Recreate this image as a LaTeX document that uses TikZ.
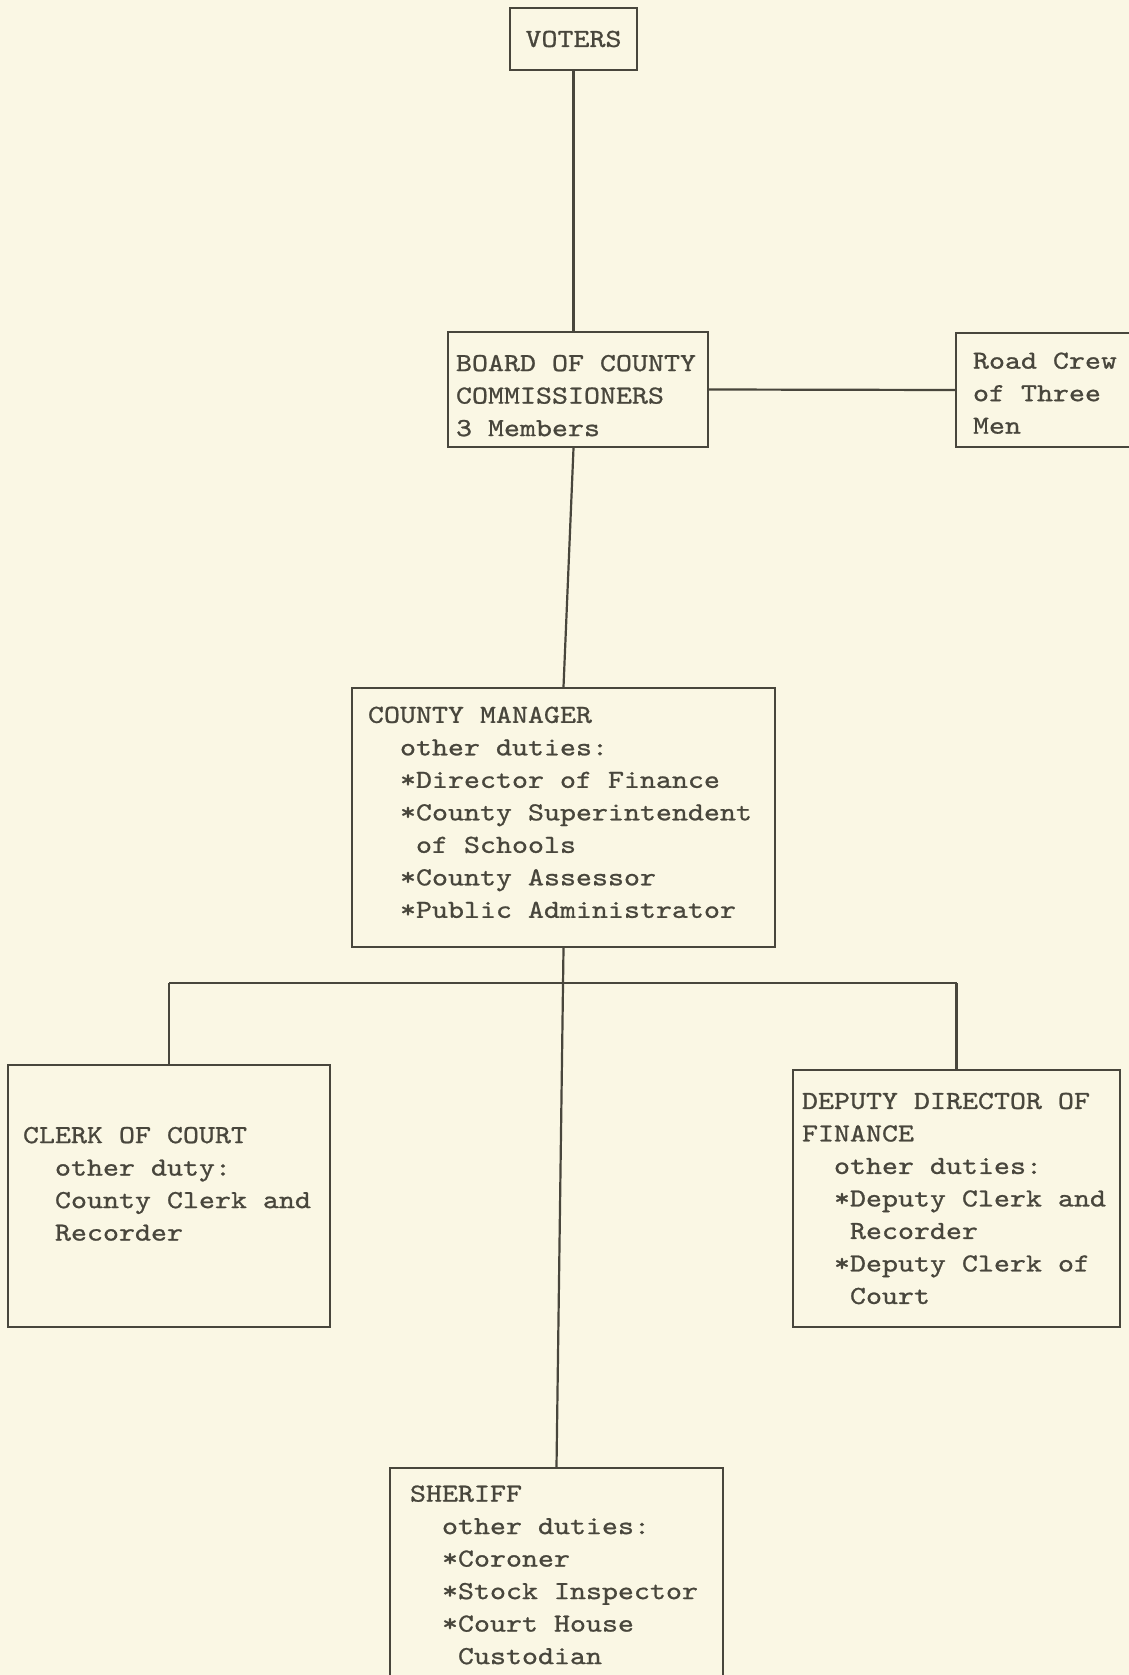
\documentclass[tikz,border=0pt]{standalone}
\usepackage{fontspec}
\newfontfamily\typefont{lmmono10-regular.otf}[FakeStretch=1.172, FakeBold=0.9]
\usetikzlibrary{positioning}
\definecolor{paper}{RGB}{250,247,228}
\definecolor{ink}{RGB}{72,70,60}
\newcommand{\ind}{\hspace*{32pt}}
\newcommand{\wsp}{\hspace{16pt}}
\newcommand{\typeset}{\typefont\fontsize{26pt}{32.5pt}\selectfont
  \hyphenpenalty=10000\exhyphenpenalty=10000}

\begin{document}
\begin{tikzpicture}[
  x=1pt, y=-1pt,
  obox/.style={draw=ink, line width=2.2pt, text=ink, align=left, inner ysep=0pt,
               font=\typeset},
  link/.style={draw=ink, line width=2.2pt},
]
  \fill[paper] (0,0) rectangle (1129,1675);
  \useasboundingbox (0,0) rectangle (1129,1675);

  % Voters and board
  \node[obox, align=center, minimum width=127pt, minimum height=62pt, inner xsep=0pt] (voters) at (573.5,39) {VOTERS};
  \node[obox, text width=244pt, inner xsep=8pt, minimum height=115pt] (board) at (578,389.5)
    {\mbox{}\\[-4pt]BOARD\wsp OF\wsp COUNTY\\COMMISSIONERS\\3\wsp Members};
  \node[obox, text width=200pt, inner xsep=17pt, minimum height=114pt] (road) at (1073,390)
    {\mbox{}\\[-10pt]Road\wsp Crew\\of\wsp Three\\Men};

  % Manager
  \node[obox, text width=391pt, inner xsep=16pt, minimum height=259pt] (manager) at (563.5,817.5)
    {COUNTY\wsp MANAGER\\
     \ind other\wsp duties:\\
     \ind *Director\wsp of\wsp Finance\\
     \ind *County\wsp Superintendent\\
     \ind\hspace*{16pt}of\wsp Schools\\
     \ind *County\wsp Assessor\\
     \ind *Public\wsp Administrator\\[-22pt]\mbox{}};

  % Offices under the manager
  \node[obox, text width=292pt, inner xsep=15pt, minimum height=262pt] (clerk) at (169,1196)
    {CLERK\wsp OF\wsp COURT\\
     \ind other\wsp duty:\\
     \ind County\wsp Clerk\wsp and\\
     \ind Recorder\\[-8pt]\mbox{}};
  \node[obox, text width=309pt, inner xsep=9pt, minimum height=257pt] (deputy) at (956.5,1198.5)
    {DEPUTY\wsp DIRECTOR\wsp OF\\
     FINANCE\\
     \ind other\wsp duties:\\
     \ind *Deputy\wsp Clerk\wsp and\\
     \ind\hspace*{16pt}Recorder\\
     \ind *Deputy\wsp Clerk\wsp of\\
     \ind\hspace*{16pt}Court};
  \node[obox, text width=293pt, inner xsep=20pt, minimum height=300pt] (sheriff) at (556.5,1618)
    {SHERIFF\\
     \ind other\wsp duties:\\
     \ind *Coroner\\
     \ind *Stock\wsp Inspector\\
     \ind *Court\wsp House\\
     \ind\hspace*{16pt}Custodian\\[54pt]\mbox{}};

  % Connectors
  \draw[link] (voters.south) -- (voters.south |- board.north);
  \draw[link] (voters.south |- board.south) -- (manager.north);
  \draw[link] (board.east) -- (road.west);
  \draw[link] (manager.south) -- (sheriff.north);
  \coordinate (bus) at (563,983);
  \draw[link] (bus -| clerk.north) -- (bus -| deputy.north);
  \foreach \s in {clerk,deputy} { \draw[link] (bus -| \s.north) -- (\s.north); }
\end{tikzpicture}
\end{document}
